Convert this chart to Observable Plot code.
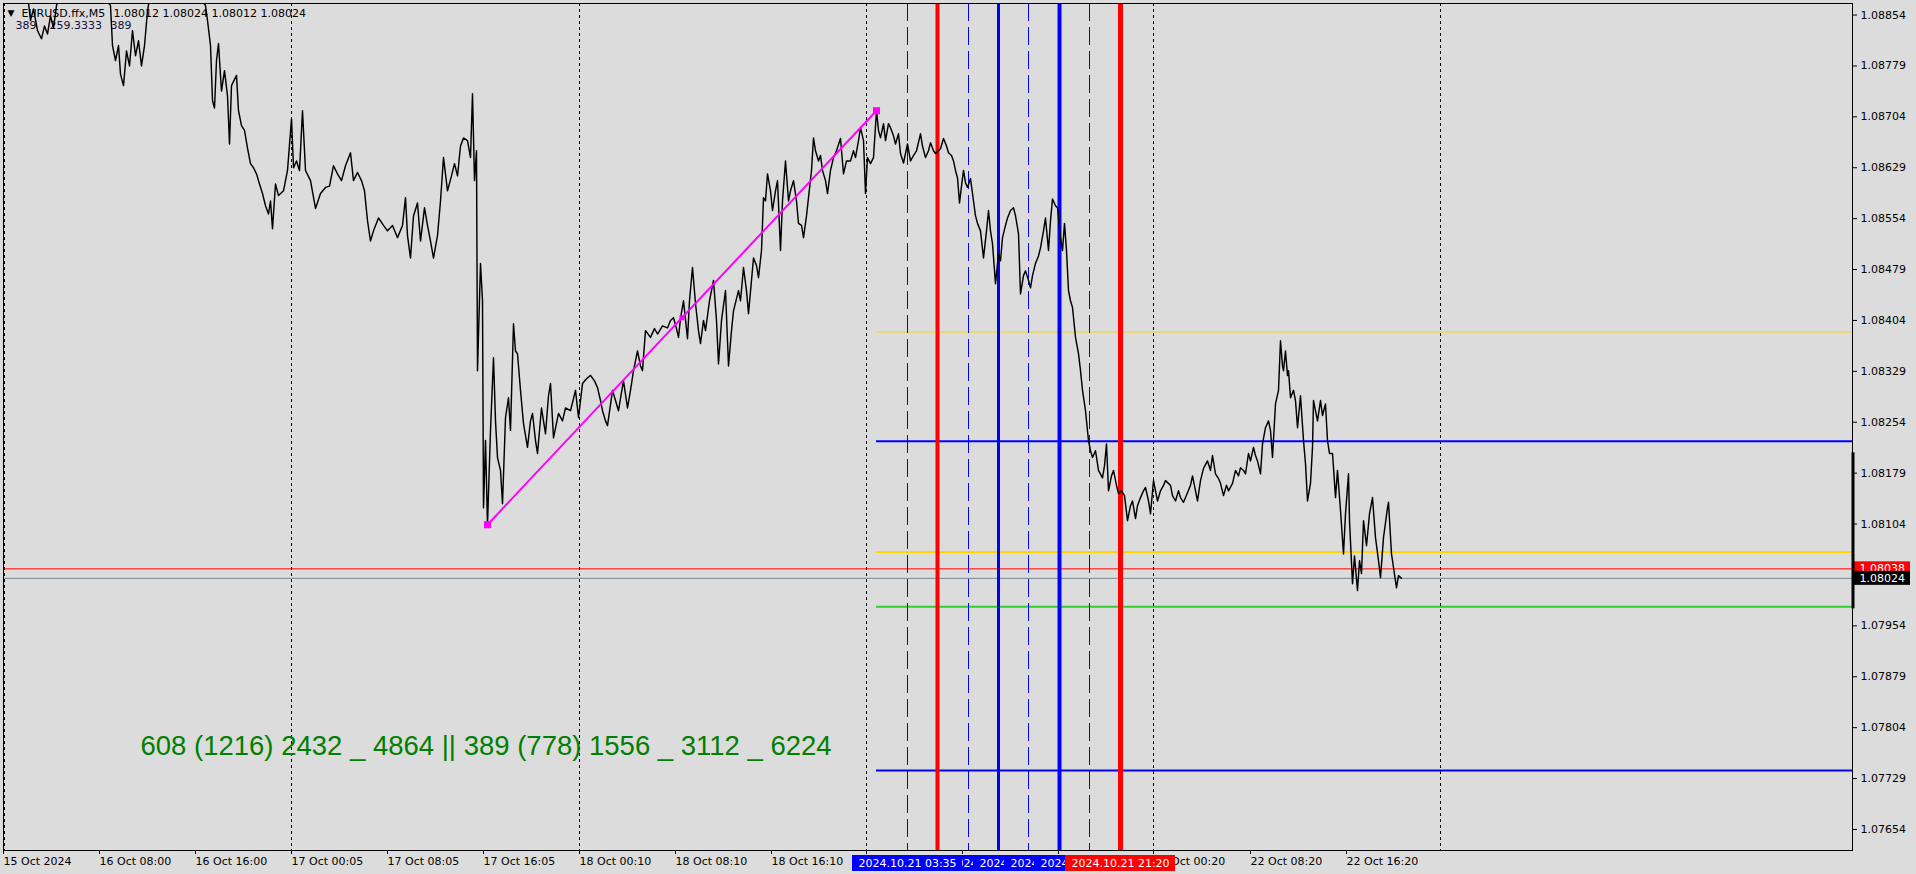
<!DOCTYPE html>
<html><head><meta charset="utf-8">
<script src="https://cdn.jsdelivr.net/npm/d3@7"></script>
<script src="https://cdn.jsdelivr.net/npm/@observablehq/plot@0.6"></script>
<style>
html,body{margin:0;padding:0;background:#dcdcdc;overflow:hidden}
#chart svg{display:block}
</style></head>
<body><div id="chart"></div>
<script>
// ---- data (M5 bars, 1 bar per pixel) ----
const bars = [0,17,25,27,30,34,38,41,44,47,50,53,57,77,97,107,109,112,115,117,120,123,126,129,132,135,138,141,144,147,169,177,192,197,202,204,207,209,211,213,215,218,221,224,226,228,233,235,238,241,244,247,250,253,256,259,262,265,267,269,272,275,280,284,288,290,293,296,299,302,307,312,317,322,326,330,334,338,342,347,350,354,358,361,364,367,370,375,380,384,389,394,399,402,404,407,410,414,417,421,424,427,430,434,437,440,444,448,451,454,457,460,464,467,469,471,473,474,477,479,480,482,484,487,490,492,494,497,499,502,505,507,510,512,514,517,520,524,527,529,532,534,538,542,545,547,550,555,559,562,567,572,575,579,583,587,591,594,597,599,602,604,609,612,615,618,620,624,627,630,634,637,639,642,647,651,654,659,664,667,670,673,675,677,680,684,686,689,692,695,697,700,702,706,710,713,715,718,722,725,728,730,735,737,740,743,745,748,750,753,755,758,760,762,764,767,769,772,774,777,779,782,785,787,790,793,795,798,800,803,805,808,810,812,815,817,819,822,824,827,830,833,837,840,843,847,850,852,855,857,860,862,864,867,870,873,875,877,880,882,885,887,890,892,895,897,900,904,907,910,913,917,919,922,925,927,930,932,935,937,940,943,945,948,950,952,954,956,958,960,962,964,967,970,972,974,977,980,983,985,987,989,992,995,997,999,1002,1004,1007,1010,1012,1015,1017,1020,1022,1025,1027,1029,1032,1035,1037,1040,1042,1045,1047,1049,1052,1054,1057,1059,1061,1063,1065,1067,1069,1072,1075,1077,1079,1082,1085,1087,1089,1092,1095,1099,1101,1103,1105,1108,1110,1113,1115,1118,1121,1124,1127,1129,1132,1134,1137,1140,1142,1145,1147,1150,1152,1154,1157,1160,1162,1167,1169,1172,1175,1177,1180,1184,1187,1189,1192,1194,1197,1200,1204,1207,1209,1212,1215,1217,1220,1223,1225,1229,1232,1235,1237,1240,1242,1245,1247,1250,1252,1254,1257,1259,1262,1265,1267,1269,1272,1275,1277,1279,1280,1282,1284,1285,1287,1290,1292,1294,1297,1300,1302,1304,1307,1309,1310,1314,1317,1319,1322,1324,1326,1329,1330,1332,1334,1337,1340,1342,1345,1346,1349,1351,1354,1356,1358,1360,1363,1366,1369,1372,1375,1377,1380,1384,1385,1388,1390,1393,1395,1398];
const closes = [1.08897,1.08887,1.08872,1.08846,1.08863,1.08831,1.08819,1.08838,1.08826,1.08853,1.08835,1.08868,1.08890,1.08904,1.08890,1.08868,1.08809,1.08787,1.08809,1.08767,1.08750,1.08801,1.08779,1.08831,1.08794,1.08816,1.08779,1.08809,1.08860,1.08887,1.08879,1.08890,1.08872,1.08878,1.08868,1.08846,1.08809,1.08728,1.08717,1.08787,1.08812,1.08742,1.08772,1.08735,1.08664,1.08750,1.08765,1.08713,1.08691,1.08684,1.08658,1.08635,1.08629,1.08620,1.08605,1.08591,1.08573,1.08561,1.08580,1.08539,1.08605,1.08588,1.08595,1.08625,1.08701,1.08629,1.08639,1.08625,1.08713,1.08625,1.08610,1.08569,1.08591,1.08600,1.08602,1.08632,1.08620,1.08610,1.08632,1.08651,1.08610,1.08622,1.08610,1.08595,1.08551,1.08521,1.08536,1.08555,1.08544,1.08536,1.08544,1.08526,1.08544,1.08585,1.08529,1.08496,1.08558,1.08577,1.08521,1.08570,1.08544,1.08521,1.08496,1.08529,1.08580,1.08644,1.08595,1.08617,1.08635,1.08617,1.08661,1.08673,1.08669,1.08644,1.08738,1.08610,1.08654,1.08330,1.08488,1.08433,1.08128,1.08227,1.08103,1.08242,1.08349,1.08256,1.08202,1.08183,1.08134,1.08261,1.08290,1.08242,1.08399,1.08359,1.08355,1.08301,1.08252,1.08217,1.08256,1.08267,1.08227,1.08208,1.08275,1.08237,1.08293,1.08311,1.08231,1.08267,1.08256,1.08275,1.08271,1.08301,1.08261,1.08311,1.08318,1.08323,1.08315,1.08305,1.08286,1.08271,1.08256,1.08249,1.08301,1.08286,1.08271,1.08298,1.08315,1.08275,1.08301,1.08330,1.08359,1.08337,1.08330,1.08389,1.08379,1.08392,1.08384,1.08396,1.08393,1.08404,1.08408,1.08392,1.08379,1.08407,1.08433,1.08377,1.08433,1.08482,1.08429,1.08389,1.08370,1.08404,1.08389,1.08433,1.08463,1.08404,1.08340,1.08404,1.08448,1.08337,1.08389,1.08418,1.08448,1.08433,1.08482,1.08448,1.08414,1.08463,1.08496,1.08485,1.08467,1.08507,1.08585,1.08580,1.08620,1.08595,1.08566,1.08595,1.08610,1.08507,1.08580,1.08639,1.08580,1.08595,1.08610,1.08580,1.08547,1.08544,1.08526,1.08558,1.08585,1.08625,1.08673,1.08654,1.08639,1.08647,1.08625,1.08610,1.08591,1.08625,1.08644,1.08654,1.08672,1.08620,1.08639,1.08639,1.08654,1.08644,1.08669,1.08688,1.08669,1.08591,1.08644,1.08635,1.08644,1.08713,1.08684,1.08673,1.08694,1.08669,1.08694,1.08688,1.08676,1.08664,1.08679,1.08650,1.08636,1.08664,1.08639,1.08647,1.08654,1.08679,1.08661,1.08644,1.08654,1.08666,1.08654,1.08650,1.08654,1.08657,1.08672,1.08661,1.08651,1.08647,1.08639,1.08625,1.08614,1.08577,1.08602,1.08625,1.08607,1.08600,1.08613,1.08580,1.08558,1.08547,1.08536,1.08496,1.08536,1.08566,1.08536,1.08517,1.08458,1.08502,1.08492,1.08526,1.08544,1.08555,1.08566,1.08570,1.08558,1.08532,1.08443,1.08470,1.08477,1.08463,1.08452,1.08470,1.08488,1.08499,1.08511,1.08536,1.08555,1.08507,1.08551,1.08583,1.08573,1.08570,1.08526,1.08507,1.08547,1.08507,1.08448,1.08433,1.08423,1.08379,1.08355,1.08330,1.08301,1.08271,1.08227,1.08212,1.08202,1.08212,1.08183,1.08172,1.08190,1.08222,1.08153,1.08175,1.08183,1.08161,1.08149,1.08153,1.08146,1.08109,1.08131,1.08138,1.08112,1.08131,1.08143,1.08153,1.08158,1.08138,1.08119,1.08168,1.08153,1.08138,1.08153,1.08161,1.08168,1.08161,1.08146,1.08138,1.08153,1.08143,1.08136,1.08150,1.08161,1.08175,1.08153,1.08138,1.08168,1.08186,1.08197,1.08183,1.08205,1.08178,1.08171,1.08164,1.08146,1.08161,1.08153,1.08164,1.08183,1.08175,1.08187,1.08183,1.08178,1.08208,1.08197,1.08217,1.08205,1.08197,1.08178,1.08222,1.08246,1.08256,1.08242,1.08202,1.08281,1.08301,1.08374,1.08337,1.08330,1.08359,1.08323,1.08330,1.08290,1.08301,1.08286,1.08246,1.08293,1.08227,1.08193,1.08138,1.08164,1.08217,1.08286,1.08256,1.08286,1.08264,1.08281,1.08227,1.08208,1.08208,1.08187,1.08143,1.08183,1.08124,1.08060,1.08119,1.08178,1.08109,1.08016,1.08057,1.08006,1.08050,1.08031,1.08109,1.08072,1.08119,1.08143,1.08084,1.08050,1.08025,1.08084,1.08128,1.08136,1.08060,1.08040,1.08010,1.08028,1.08024];

const yTicks = [1.08854,1.08779,1.08704,1.08629,1.08554,1.08479,1.08404,1.08329,1.08254,1.08179,1.08104,1.08029,1.07954,1.07879,1.07804,1.07729,1.07654];
const xTickBars = [0,96,192,288,384,480,576,672,768,863,959,1055,1150,1247,1343];
const xTickLabels = ["15 Oct 2024","16 Oct 08:00","16 Oct 16:00","17 Oct 00:05","17 Oct 08:05","17 Oct 16:05","18 Oct 00:10","18 Oct 08:10","18 Oct 16:10","21 Oct 00:20","21 Oct 08:20","21 Oct 16:20","22 Oct 00:20","22 Oct 08:20","22 Oct 16:20"];
const dayGridBars = [1,288,576,863,1150,1437];

const vlineBars = [904,934,965,995,1025,1056,1086,1117];
const vlineTimes = ["2024.10.21 03:35","2024.10.21 06:05","2024.10.21 08:40","2024.10.21 11:15","2024.10.21 13:40","2024.10.21 16:15","2024.10.21 18:45","2024.10.21 21:20"];

const levelStartBar = 873;
const levelPrices = [1.08387,1.08226,1.08063,1.07982,1.07741];
const askPrice = 1.08038;
const bidPrice = 1.08024;
const rangeHigh = 1.08209, rangeLow = 1.07979;

const trendBars = [484,873];
const trendPrices = [1.08103,1.08713];

const headerSymbol = "EURUSD.ffx,M5";
const headerOHLC = "1.08012 1.08024 1.08012 1.08024";
const headerValues = ["389","259.3333","389"];
const noteText = "608 (1216) 2432 _ 4864 || 389 (778) 1556 _ 3112 _ 6224";

// ---- layout / styles ----
const W = 1916, H = 874, mT = 3, mB = 24, mL = 3, mR = 64;
const xDomain = [0, 1849];
const yDomain = [1.07623, 1.08871];
const pxPerPrice = (H - mT - mB) / (yDomain[1] - yDomain[0]);
const pxPerBar = (W - mL - mR) / (xDomain[1] - xDomain[0]);
const priceAtPx = px => yDomain[1] - (px - mT) / pxPerPrice;
const barAtPx = px => xDomain[0] + (px - mL) / pxPerBar;

const levelStyle = [
  {stroke:"#ffd700", w:1},{stroke:"#0000ff", w:2},{stroke:"#ffd700", w:2},
  {stroke:"#32cd32", w:2},{stroke:"#0000ff", w:2}];
const vStyle = [
  {stroke:"#0000ff", w:1, dash:"18,6", bg:"#0000ff"},
  {stroke:"#ff0000", w:4, bg:"#ff0000"},
  {stroke:"#0000ff", w:1, dash:"18,6", bg:"#0000ff"},
  {stroke:"#0000ff", w:3, bg:"#0000ff"},
  {stroke:"#0000ff", w:1, dash:"18,6", bg:"#0000ff"},
  {stroke:"#0000ff", w:4, bg:"#0000ff"},
  {stroke:"#0000ff", w:1, dash:"18,6", bg:"#0000ff"},
  {stroke:"#ff0000", w:5, bg:"#ff0000"}];
const labelOrder = [1,2,3,4,5,6,7,0];

const series = bars.map((b, i) => ({bar: b, close: closes[i]}));
const levels = levelPrices.map((p, i) => ({price: p, ...levelStyle[i]}));
const vlines = vlineBars.map((b, i) => ({bar: b, time: vlineTimes[i], ...vStyle[i]}));
const trend = trendBars.map((b, i) => ({bar: b, price: trendPrices[i]}));
const trendMid = [{bar: d3.mean(trendBars), price: d3.mean(trendPrices)}];
const tickMap = new Map(xTickBars.map((b, i) => [b, xTickLabels[i]]));

const halfBox = 55 / pxPerBar;
const boxTop = priceAtPx(855), boxBot = priceAtPx(871), boxBase = priceAtPx(866.5);
const priceBoxHalf = 7 / pxPerPrice;

const labelMarks = labelOrder.flatMap(i => {
  const d = vlines[i];
  return [
    Plot.rect([d], {x1: v => v.bar - halfBox, x2: v => v.bar + halfBox, y1: boxBot, y2: boxTop, fill: d.bg}),
    Plot.text([d], {x: "bar", y: boxBase, text: "time", fill: "white", textAnchor: "middle", lineAnchor: "bottom", fontSize: 11})
  ];
});

const priceBox = (p, bg) => [
  Plot.rect([p], {x1: barAtPx(1853), x2: barAtPx(1910), y1: v => v - priceBoxHalf, y2: v => v + priceBoxHalf, fill: bg}),
  Plot.text([p], {x: barAtPx(1859), y: v => v, text: v => d3.format(".5f")(v), fill: "white", textAnchor: "start", lineAnchor: "middle", fontSize: 11})
];

const chart = Plot.plot({
  width: W, height: H,
  marginTop: mT, marginBottom: mB, marginLeft: mL, marginRight: mR,
  style: {background: "#dcdcdc", fontFamily: "DejaVu Sans", fontSize: "11px", color: "black", overflow: "visible"},
  x: {domain: xDomain},
  y: {domain: yDomain},
  marks: [
    Plot.ruleX(dayGridBars, {stroke: "black", strokeDasharray: "3,3", strokeWidth: 1}),
    // header
    Plot.text(["▼"], {frameAnchor: "top-left", dx: 4, dy: 12, lineAnchor: "bottom", textAnchor: "start", fontSize: 9, fill: "black"}),
    Plot.text([headerSymbol], {frameAnchor: "top-left", dx: 18, dy: 13, lineAnchor: "bottom", textAnchor: "start", fontSize: 11, fill: "black"}),
    Plot.text([headerOHLC], {frameAnchor: "top-left", dx: 110, dy: 13, lineAnchor: "bottom", textAnchor: "start", fontSize: 11, fill: "black"}),
    Plot.text([headerValues[0]], {frameAnchor: "top-left", dx: 12, dy: 25, lineAnchor: "bottom", textAnchor: "start", fontSize: 11, fill: "#10103a"}),
    Plot.text([headerValues[1]], {frameAnchor: "top-left", dx: 46, dy: 25, lineAnchor: "bottom", textAnchor: "start", fontSize: 11, fill: "#10103a"}),
    Plot.text([headerValues[2]], {frameAnchor: "top-left", dx: 107, dy: 25, lineAnchor: "bottom", textAnchor: "start", fontSize: 11, fill: "#10103a"}),
    // horizontal levels
    Plot.ruleY(levels, {y: "price", x1: levelStartBar, x2: xDomain[1], stroke: d => d.stroke, strokeWidth: d => d.w}),
    Plot.ruleY([askPrice], {stroke: "#ff0000", strokeWidth: 1}),
    Plot.ruleY([bidPrice], {stroke: "#778899", strokeWidth: 1}),
    // vertical lines
    Plot.ruleX(vlines.filter(d => d.dash), {x: "bar", stroke: d => d.stroke, strokeWidth: 1, strokeDasharray: "18,6"}),
    Plot.ruleX(vlines.filter(d => !d.dash), {x: "bar", stroke: d => d.stroke, strokeWidth: d => d.w}),
    // price
    Plot.line(series, {x: "bar", y: "close", stroke: "black", strokeWidth: 1.45, clip: true}),
    // trend line
    Plot.line(trend, {x: "bar", y: "price", stroke: "#ff00ff", strokeWidth: 2}),
    Plot.dot(trend, {x: "bar", y: "price", symbol: "square", r: 4, fill: "#ff00ff"}),
    Plot.dot(trendMid, {x: "bar", y: "price", symbol: "square", r: 2.8, fill: "#ff00ff"}),
    // note
    Plot.text([noteText], {frameAnchor: "top-left", dx: 137, dy: 751, lineAnchor: "bottom", textAnchor: "start", fontSize: 27.5, fontFamily: "Liberation Sans", fill: "#008000"}),
    // axes
    Plot.axisY({anchor: "right", ticks: yTicks, tickFormat: d3.format(".5f"), tickSize: 4, tickPadding: 4, label: null, fontSize: 11}),
    Plot.axisX({anchor: "bottom", ticks: xTickBars, tickFormat: d => tickMap.get(d), tickSize: 4, tickPadding: 3, textAnchor: "start", label: null, fontSize: 11}),
    ...labelMarks,
    ...priceBox(askPrice, "#ff0000"),
    ...priceBox(bidPrice, "#000000"),
    Plot.ruleX([barAtPx(1852.5)], {y1: rangeLow, y2: rangeHigh, stroke: "black", strokeWidth: 3}),
    Plot.frame({stroke: "black"})
  ]
});
document.getElementById("chart").appendChild(chart);
</script>
</body></html>
